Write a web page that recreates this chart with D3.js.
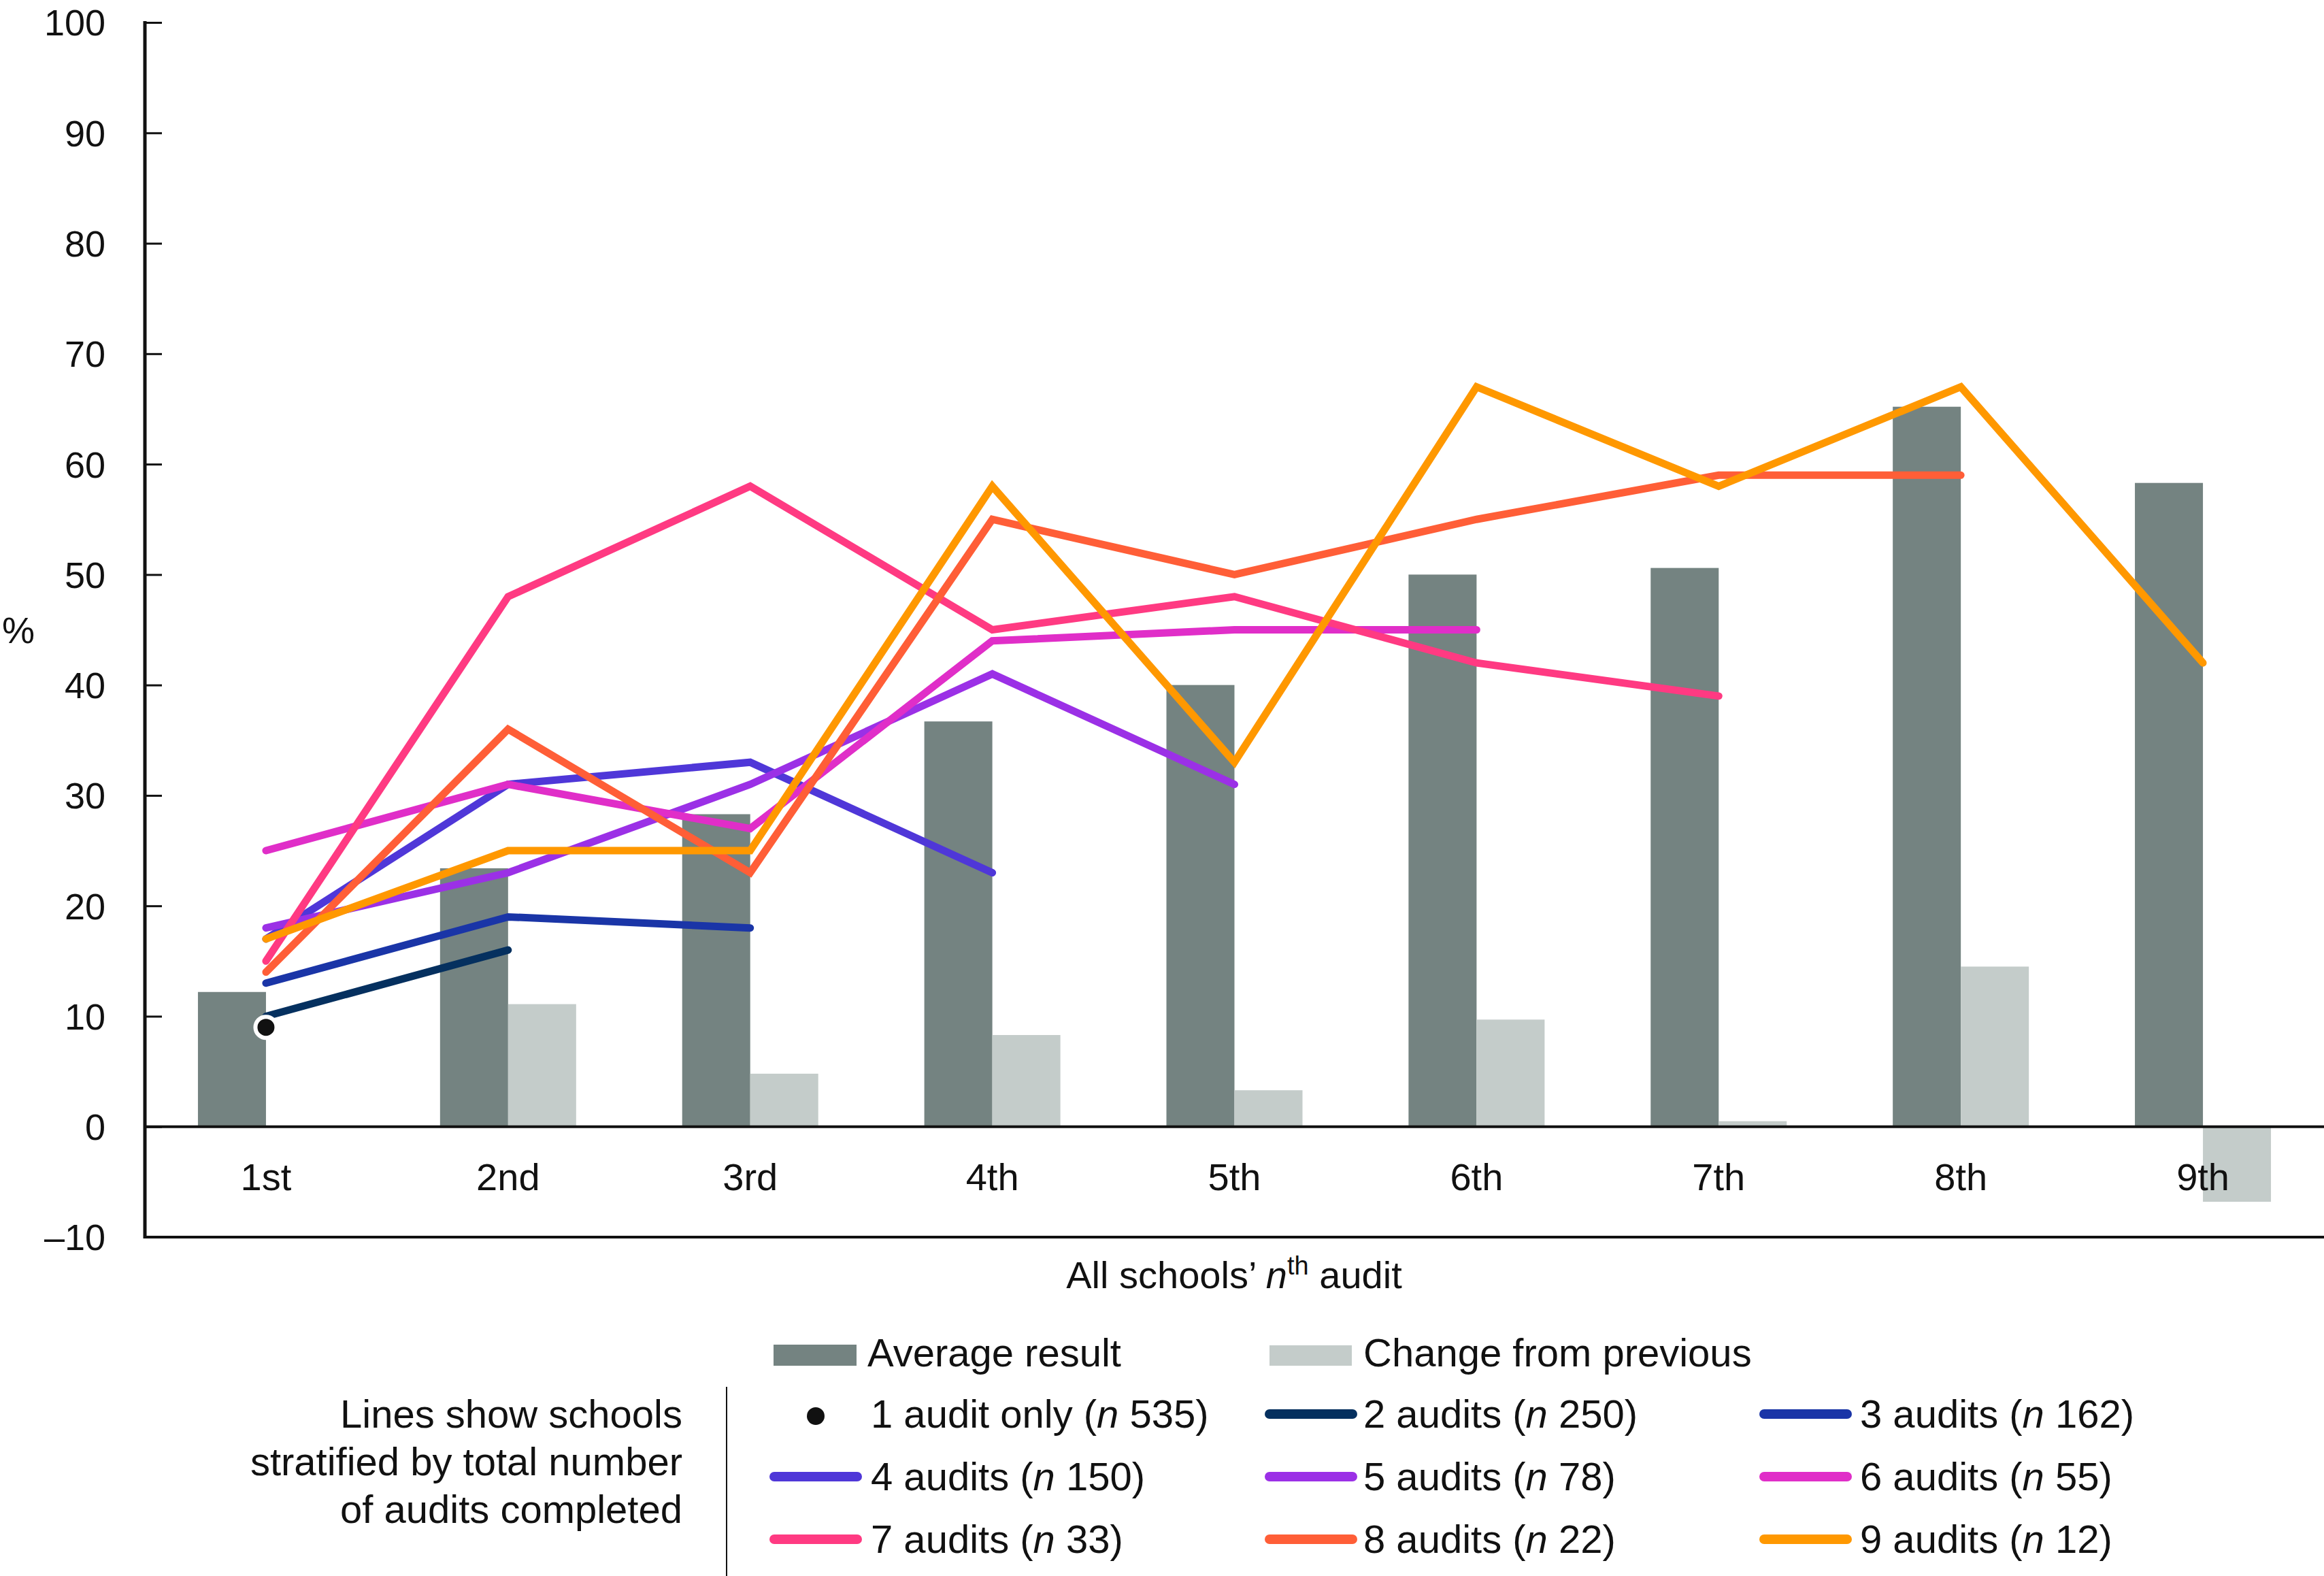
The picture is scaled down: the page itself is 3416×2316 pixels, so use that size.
<!DOCTYPE html>
<html>
<head>
<meta charset="utf-8">
<script src="https://cdn.jsdelivr.net/npm/d3@7"></script>
<style>
  html, body { margin: 0; padding: 0; background: #fff; }
  svg { display: block; font-family: "Liberation Sans", Arial, Helvetica, sans-serif; }
</style>
</head>
<body>
<svg id="chart" width="3416" height="2316"></svg>
<script>
// ---------- data ----------
const categories = ["1st", "2nd", "3rd", "4th", "5th", "6th", "7th", "8th", "9th"];
const averageResult = [12.2, 23.4, 28.3, 36.7, 40.0, 50.0, 50.6, 65.2, 58.3];
const changeFromPrevious = [null, 11.1, 4.8, 8.3, 3.3, 9.7, 0.5, 14.5, -6.8];
const yTicks = [-10, 0, 10, 20, 30, 40, 50, 60, 70, 80, 90, 100];

const oneAuditOnly = [9];
const twoAudits   = [10, 16];
const threeAudits = [13, 19, 18];
const fourAudits  = [17, 31, 33, 23];
const fiveAudits  = [18, 23, 31, 41, 31];
const sixAudits   = [25, 31, 27, 44, 45, 45];
const sevenAudits = [15, 48, 58, 45, 48, 42, 39];
const eightAudits = [14, 36, 23, 55, 50, 55, 59, 59];
const nineAudits  = [17, 25, 25, 58, 33, 67, 58, 67, 42];

const seriesLabels = ["1 audit only", "2 audits", "3 audits", "4 audits", "5 audits", "6 audits", "7 audits", "8 audits", "9 audits"];
const seriesN = [535, 250, 162, 150, 78, 55, 33, 22, 12];
const seriesColors = ["#111111", "#05305f", "#1a35a7", "#4f37d8", "#9b30e6", "#e02ec8", "#ff3a82", "#ff5e37", "#ff9800"];
const lineSeries = [oneAuditOnly, twoAudits, threeAudits, fourAudits, fiveAudits, sixAudits, sevenAudits, eightAudits, nineAudits];

const darkBarColor = "#748381";
const lightBarColor = "#c4ccca";

// ---------- layout ----------
const svg = d3.select("#chart");
const plotLeft = 213, plotRight = 3416, plotTop = 33, plotBottom = 1818;

const x0 = d3.scaleBand().domain(categories).range([plotLeft, plotRight]).paddingInner(0.438).paddingOuter(0.219);
const x1 = d3.scaleBand().domain(["avg", "chg"]).range([0, x0.bandwidth()]);
const y = d3.scaleLinear().domain([-10, 100]).range([plotBottom, plotTop]);
const cx = c => x0(c) + x0.bandwidth() / 2;

// bars
const g = svg.append("g");
g.selectAll("rect.avg").data(categories).join("rect")
  .attr("class", "avg")
  .attr("x", c => x0(c) + x1("avg"))
  .attr("width", x1.bandwidth())
  .attr("y", (c, i) => y(Math.max(0, averageResult[i])))
  .attr("height", (c, i) => Math.abs(y(averageResult[i]) - y(0)))
  .attr("fill", darkBarColor);

g.selectAll("rect.chg").data(categories.filter((c, i) => changeFromPrevious[i] !== null)).join("rect")
  .attr("class", "chg")
  .attr("x", c => x0(c) + x1("chg"))
  .attr("width", x1.bandwidth())
  .attr("y", c => { const v = changeFromPrevious[categories.indexOf(c)]; return y(Math.max(0, v)); })
  .attr("height", c => { const v = changeFromPrevious[categories.indexOf(c)]; return Math.abs(y(v) - y(0)); })
  .attr("fill", lightBarColor);

// y axis
const yAxis = d3.axisRight(y).tickValues(yTicks.filter(t => t > -10)).tickSize(25).tickFormat("");
const ya = svg.append("g").attr("transform", `translate(${plotLeft},0)`).call(yAxis);
ya.select(".domain").remove();
ya.selectAll(".tick line").attr("stroke", "#111").attr("stroke-width", 3);

svg.append("line").attr("x1", plotLeft).attr("x2", plotLeft).attr("y1", y(100) - 2).attr("y2", y(-10) + 2)
  .attr("stroke", "#111").attr("stroke-width", 5);

svg.append("g").selectAll("text").data(yTicks).join("text")
  .attr("x", 155).attr("y", d => y(d)).attr("dy", "0.36em")
  .attr("text-anchor", "end").attr("font-size", 54).attr("fill", "#111")
  .text(d => d < 0 ? "\u2013" + Math.abs(d) : d);

svg.append("text").attr("x", 3).attr("y", (y(100) + y(-10)) / 2).attr("dy", "0.36em")
  .attr("font-size", 54).attr("fill", "#111").text("%");

// x axis lines (zero line and bottom)
svg.append("line").attr("x1", plotLeft).attr("x2", plotRight).attr("y1", y(0)).attr("y2", y(0))
  .attr("stroke", "#111").attr("stroke-width", 4);
svg.append("line").attr("x1", plotLeft).attr("x2", plotRight).attr("y1", y(-10)).attr("y2", y(-10))
  .attr("stroke", "#111").attr("stroke-width", 4);

// x tick labels
svg.append("g").selectAll("text").data(categories).join("text")
  .attr("x", c => cx(c)).attr("y", 1749)
  .attr("text-anchor", "middle").attr("font-size", 56).attr("fill", "#111")
  .text(c => c);

// x title
const xt = svg.append("text").attr("x", 1814).attr("y", 1893).attr("text-anchor", "middle")
  .attr("font-size", 56).attr("fill", "#111");
xt.append("tspan").text("All schools\u2019 ");
xt.append("tspan").attr("font-style", "italic").text("n");
xt.append("tspan").attr("font-size", 38).attr("dy", -20).text("th");
xt.append("tspan").attr("dy", 20).text(" audit");

// lines
const line = d3.line().x((d, i) => cx(categories[i])).y(d => y(d));
const lg = svg.append("g");
lineSeries.forEach((s, k) => {
  if (s.length < 2) return;
  lg.append("path").datum(s).attr("d", line)
    .attr("fill", "none").attr("stroke", seriesColors[k]).attr("stroke-width", 11)
    .attr("stroke-linecap", "round").attr("stroke-linejoin", "miter");
});
// 1 audit only dot
lg.selectAll("circle.one").data(oneAuditOnly).join("circle")
  .attr("class", "one")
  .attr("cx", (d, i) => cx(categories[i])).attr("cy", d => y(d))
  .attr("r", 15.5).attr("fill", "#111").attr("stroke", "#fff").attr("stroke-width", 6);

// ---------- legend ----------
const leg = svg.append("g");
leg.append("rect").attr("x", 1137).attr("y", 1976).attr("width", 122).attr("height", 31).attr("fill", darkBarColor);
leg.append("text").attr("x", 1275).attr("y", 2008).attr("font-size", 58).attr("fill", "#111").text("Average result");
leg.append("rect").attr("x", 1866).attr("y", 1977).attr("width", 121).attr("height", 30).attr("fill", lightBarColor);
leg.append("text").attr("x", 2004).attr("y", 2008).attr("font-size", 58).attr("fill", "#111").text("Change from previous");

const desc = ["Lines show schools", "stratified by total number", "of audits completed"];
leg.selectAll("text.desc").data(desc).join("text").attr("class", "desc")
  .attr("x", 1003).attr("y", (d, i) => 2098 + i * 70)
  .attr("text-anchor", "end").attr("font-size", 58).attr("fill", "#111").text(d => d);

leg.append("line").attr("x1", 1068).attr("x2", 1068).attr("y1", 2038).attr("y2", 2316)
  .attr("stroke", "#111").attr("stroke-width", 2);

const colSwatchX = [1131, 1859, 2586];
const colTextX = [1280, 2004, 2734];
const rowBase = [2098, 2190, 2282];
seriesLabels.forEach((lab, k) => {
  const col = k % 3, row = Math.floor(k / 3);
  const by = rowBase[row];
  if (k === 0) {
    leg.append("circle").attr("cx", 1199).attr("cy", by - 17).attr("r", 13).attr("fill", "#111");
  } else {
    leg.append("rect").attr("x", colSwatchX[col]).attr("y", by - 27).attr("width", 136).attr("height", 14)
      .attr("rx", 7).attr("fill", seriesColors[k]);
  }
  const t = leg.append("text").attr("x", colTextX[col]).attr("y", by).attr("font-size", 58).attr("fill", "#111");
  t.append("tspan").text(lab + " (");
  t.append("tspan").attr("font-style", "italic").text("n");
  t.append("tspan").text(" " + seriesN[k] + ")");
});
</script>
</body>
</html>
